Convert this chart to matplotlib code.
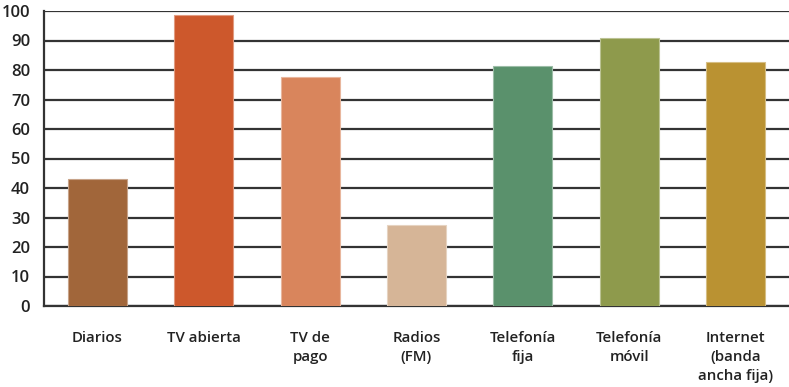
import matplotlib
matplotlib.use("Agg")
import matplotlib.pyplot as plt
import matplotlib.colors as mcolors

categories = ["Diarios", "TV abierta", "TV de\npago", "Radios\n(FM)", "Telefonía\nfija", "Telefonía\nmóvil", "Internet\n(banda\nancha fija)"]
values = [43.0, 98.7, 77.6, 27.6, 81.2, 90.8, 82.6]
colors = ["#A1663A", "#CD582C", "#D9855C", "#D6B597", "#5A916C", "#8E9A4C", "#BA9232"]
yticks = [0, 10, 20, 30, 40, 50, 60, 70, 80, 90, 100]

plt.rcParams['font.family'] = ['Open Sans', 'DejaVu Sans']

fig = plt.figure(figsize=(7.89, 3.87), dpi=100)
ax = fig.add_axes([44/789, 1-306/387, 1-44/789, (306-11)/387])

x = list(range(len(categories)))
edges = [mcolors.to_rgba(c) for c in colors]
edges = [tuple(0.6*v + 0.4 for v in e[:3]) + (1,) for e in edges]
ax.bar(x, values, width=0.555, color=colors, edgecolor=edges, linewidth=0.8, zorder=3)

ax.set_ylim(0, 100)
ax.set_xlim(-0.5, 6.5)
ax.set_yticks(yticks)
ax.set_yticklabels([str(t) for t in yticks], fontsize=12, fontweight='semibold', color='#222222')
ax.yaxis.grid(True, color='#333333', linewidth=1.6, zorder=1)
ax.set_axisbelow(True)
ax.tick_params(axis='y', length=0, pad=10)
ax.tick_params(axis='x', length=0, pad=18)
ax.set_xticks(x)
ax.set_xticklabels(categories, fontsize=10.8, fontweight='semibold', color='#222222', linespacing=1.45, va='top', ha='center')

for s in ['top', 'right']:
    ax.spines[s].set_visible(False)
ax.spines['left'].set_color('#333333')
ax.spines['left'].set_linewidth(1.6)
ax.spines['bottom'].set_color('#333333')
ax.spines['bottom'].set_linewidth(1.6)

fig.savefig("out.png", dpi=100)
